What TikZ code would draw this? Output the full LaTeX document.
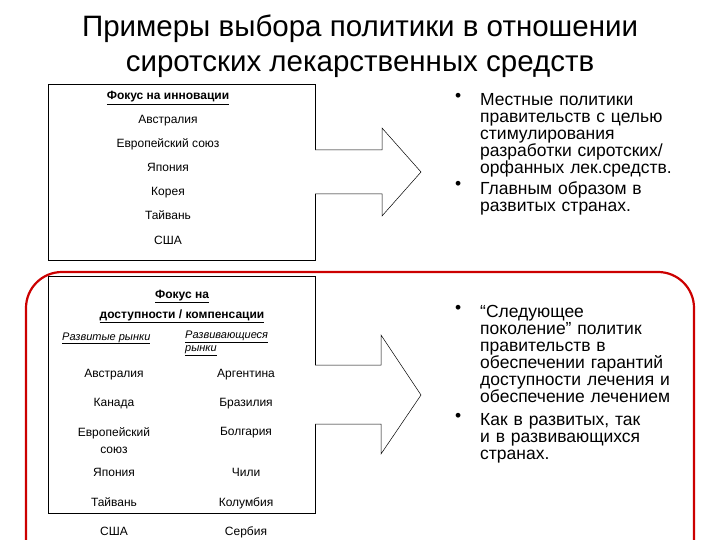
\documentclass[tikz,border=0pt]{standalone}
\usepackage{fontspec}
\setmainfont{Liberation Sans}
\begin{document}
\begin{tikzpicture}[x=1pt,y=-1pt,
  box/.style={draw=black,line width=0.6pt},
  arr/.style={draw=black,fill=white,line width=0.5pt},
  sm/.style={font=\fontsize{12}{14}\selectfont,inner sep=0pt,text height=9pt,text depth=3pt},
  bl/.style={font=\fontsize{17.5}{17}\selectfont,anchor=north west,align=left,text width=200pt,inner sep=0pt},
  ttl/.style={font=\fontsize{29.5}{35}\selectfont,align=center,inner sep=0pt}]
\useasboundingbox (0,0) rectangle (720,540);
\node[ttl] (title) at (360,46) {Примеры выбора политики в отношении\\сиротских лекарственных средств};
% top box
\draw[box] (48,84) rectangle (315,260);
\node[sm] (h1) at (168,97) {\textbf{\underline{Фокус на инновации}}};
\node[sm] (a1) at (168,121) {Австралия};
\node[sm] (a2) at (168,145) {Европейский союз};
\node[sm] (a3) at (168,169) {Япония};
\node[sm] (a4) at (168,193) {Корея};
\node[sm] (a5) at (168,217) {Тайвань};
\node[sm] (a6) at (168,241) {США};
\draw[arr] (315,150) -- (382,150) -- (382,128) -- (421,172) -- (382,216) -- (382,194) -- (315,194);
% red frame
\draw[red!80!black,line width=2.2pt,rounded corners=36pt] (26,545) -- (26,272) -- (694,272) -- (694,545);
% bottom box
\draw[box] (48,276) rectangle (315,513);
\node[sm] (h2) at (182,295) {\textbf{\underline{Фокус на}}};
\node[sm] (h3) at (182,315) {\textbf{\underline{доступности / компенсации}}};
\node[sm,font=\fontsize{11}{13}\selectfont\itshape,anchor=west] (c1) at (62,337) {\underline{Развитые рынки}};
\node[sm,font=\fontsize{11}{13}\selectfont\itshape,anchor=north west,align=left,text height=,text depth=] (c2) at (185,331) {\underline{Развивающиеся}\\\underline{рынки}};
\node[sm] (l1) at (114,374) {Австралия};
\node[sm] (l2) at (114,403) {Канада};
\node[sm,align=center,font=\fontsize{12}{17}\selectfont,text height=,text depth=] (l3) at (114,441) {Европейский\\союз};
\node[sm] (l4) at (114,473) {Япония};
\node[sm] (l5) at (114,503) {Тайвань};
\node[sm] (l6) at (114,532) {США};
\node[sm] (r1) at (246,374) {Аргентина};
\node[sm] (r2) at (246,403) {Бразилия};
\node[sm] (r3) at (246,432) {Болгария};
\node[sm] (r4) at (246,473) {Чили};
\node[sm] (r5) at (246,503) {Колумбия};
\node[sm] (r6) at (246,532) {Сербия};
\draw[arr] (315,365) -- (381,365) -- (381,335) -- (421,395) -- (381,454) -- (381,424) -- (315,424);
% bullets
\node[bl] (b1) at (455,93) {•};
\node[bl] (t1) at (480,93) {Местные политики правительств с целью стимулирования разработки сиротских/ орфанных лек.средств.};
\node[bl] (b2) at (455,181) {•};
\node[bl] (t2) at (480,181) {Главным образом в развитых странах.};
\node[bl] (b3) at (455,305) {•};
\node[bl] (t3) at (480,305) {“Следующее поколение” политик правительств в обеспечении гарантий доступности лечения и обеспечение лечением};
\node[bl] (b4) at (455,413) {•};
\node[bl] (t4) at (480,413) {Как в развитых, так и в развивающихся странах.};
\end{tikzpicture}
\end{document}
